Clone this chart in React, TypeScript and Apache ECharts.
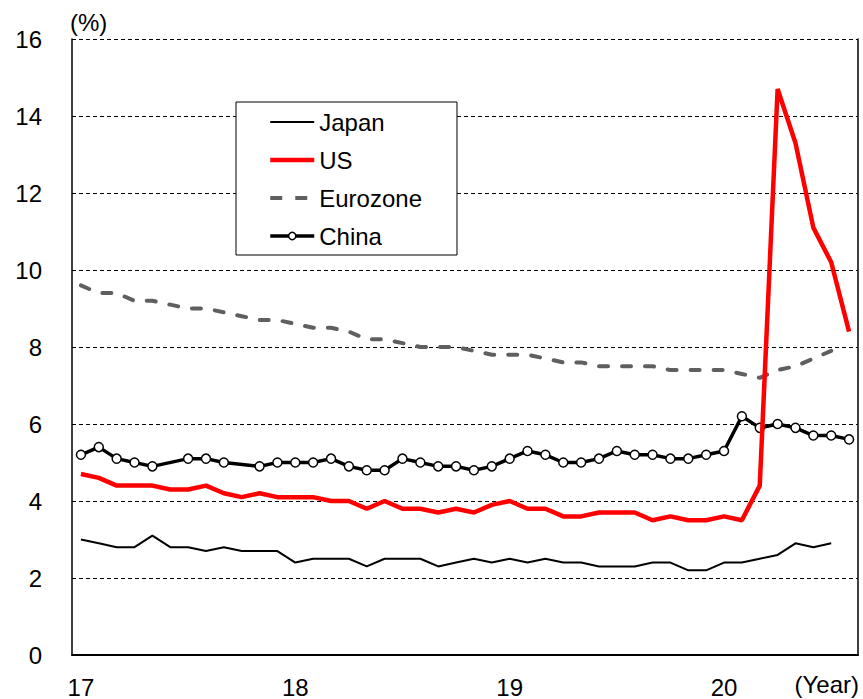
import React, { useEffect, useRef } from "react";
import * as echarts from "echarts";

const months: string[] = [
  "17-01","17-02","17-03","17-04","17-05","17-06","17-07","17-08","17-09","17-10","17-11","17-12",
  "18-01","18-02","18-03","18-04","18-05","18-06","18-07","18-08","18-09","18-10","18-11","18-12",
  "19-01","19-02","19-03","19-04","19-05","19-06","19-07","19-08","19-09","19-10","19-11","19-12",
  "20-01","20-02","20-03","20-04","20-05","20-06","20-07","20-08",
];
const yearLabels: string[] = ["17", "18", "19", "20"];

const japan: (number | null)[] = [
  3.0, 2.9, 2.8, 2.8, 3.1, 2.8, 2.8, 2.7, 2.8, 2.7, 2.7, 2.7,
  2.4, 2.5, 2.5, 2.5, 2.3, 2.5, 2.5, 2.5, 2.3, 2.4, 2.5, 2.4,
  2.5, 2.4, 2.5, 2.4, 2.4, 2.3, 2.3, 2.3, 2.4, 2.4, 2.2, 2.2,
  2.4, 2.4, 2.5, 2.6, 2.9, 2.8, 2.9, null,
];
const us: (number | null)[] = [
  4.7, 4.6, 4.4, 4.4, 4.4, 4.3, 4.3, 4.4, 4.2, 4.1, 4.2, 4.1,
  4.1, 4.1, 4.0, 4.0, 3.8, 4.0, 3.8, 3.8, 3.7, 3.8, 3.7, 3.9,
  4.0, 3.8, 3.8, 3.6, 3.6, 3.7, 3.7, 3.7, 3.5, 3.6, 3.5, 3.5,
  3.6, 3.5, 4.4, 14.7, 13.3, 11.1, 10.2, 8.4,
];
const eurozone: (number | null)[] = [
  9.6, 9.4, 9.4, 9.2, 9.2, 9.1, 9.0, 9.0, 8.9, 8.8, 8.7, 8.7,
  8.6, 8.5, 8.5, 8.4, 8.2, 8.2, 8.1, 8.0, 8.0, 8.0, 7.9, 7.8,
  7.8, 7.8, 7.7, 7.6, 7.6, 7.5, 7.5, 7.5, 7.5, 7.4, 7.4, 7.4,
  7.4, 7.3, 7.2, 7.4, 7.5, 7.7, 7.9, null,
];
const china: (number | null)[] = [
  5.2, 5.4, 5.1, 5.0, 4.9, null, 5.1, 5.1, 5.0, null, 4.9, 5.0,
  5.0, 5.0, 5.1, 4.9, 4.8, 4.8, 5.1, 5.0, 4.9, 4.9, 4.8, 4.9,
  5.1, 5.3, 5.2, 5.0, 5.0, 5.1, 5.3, 5.2, 5.2, 5.1, 5.1, 5.2,
  5.3, 6.2, 5.9, 6.0, 5.9, 5.7, 5.7, 5.6,
];

const FONT = "'Liberation Sans', Arial, sans-serif";

const japanLine = { color: "#000", width: 2 };
const usLine = { color: "#ff0000", width: 4.5 };
const euroLine = { color: "#5f5f5f", width: 4, type: [9, 14], cap: "round" };
const chinaLine = { color: "#000", width: 3.5 };

export default function App() {
  const ref = useRef<HTMLDivElement>(null);
  useEffect(() => {
    if (!ref.current) return;
    const chart = echarts.init(ref.current, null, { renderer: "svg" });
    const option: any = {
      animation: false,
      backgroundColor: "#fff",
      textStyle: { fontFamily: FONT, color: "#000" },
      grid: { left: 72, top: 39, right: 5, bottom: 44, containLabel: false },
      legend: {
        orient: "vertical",
        left: 236,
        top: 102,
        padding: [8, 35, 7, 32],
        itemGap: 14,
        itemWidth: 44,
        itemHeight: 9,
        borderColor: "#000",
        borderWidth: 1,
        backgroundColor: "#fff",
        textStyle: { fontSize: 24, fontFamily: FONT, color: "#000", lineHeight: 24 },
        data: [
          { name: "Japan", itemStyle: { opacity: 0 }, lineStyle: { ...japanLine } },
          { name: "US", itemStyle: { opacity: 0 }, lineStyle: { ...usLine } },
          { name: "Eurozone", itemStyle: { opacity: 0 }, lineStyle: { color: "#5f5f5f", width: 4, type: [12, 13], cap: "butt" } },
          { name: "China", itemStyle: { color: "#fff", borderColor: "#000", borderWidth: 1.5 }, lineStyle: { ...chinaLine } },
        ],
      },
      xAxis: {
        type: "category",
        data: months,
        boundaryGap: true,
        axisLine: { lineStyle: { color: "#000", width: 2 } },
        axisTick: { inside: true, length: 6, interval: 11, lineStyle: { color: "#000", width: 1 } },
        axisLabel: {
          interval: 11,
          margin: 20,
          fontSize: 24,
          fontFamily: FONT,
          color: "#000",
          formatter: (v: string) => {
            const y = v.slice(0, 2);
            return yearLabels.includes(y) ? y : "";
          },
        },
        splitLine: { show: false },
      },
      yAxis: [
        {
          type: "value",
          min: 0,
          max: 16,
          interval: 2,
          axisLine: { show: true, lineStyle: { color: "#000", width: 1.5 } },
          axisTick: { show: true, inside: true, length: 3, lineStyle: { color: "#000" } },
          axisLabel: { margin: 30, fontSize: 24, fontFamily: FONT, color: "#000" },
          splitLine: { show: true, lineStyle: { color: "#000", width: 1, type: [4, 3] } },
        },
        {
          type: "value",
          min: 0,
          max: 16,
          interval: 2,
          position: "right",
          axisLine: { show: true, lineStyle: { color: "#000", width: 1.5 } },
          axisTick: { show: false },
          axisLabel: { show: false },
          splitLine: { show: false },
        },
      ],
      graphic: [
        { type: "text", left: 70, top: 10, style: { text: "(%)", fontSize: 24, fontFamily: FONT, fill: "#000" } },
        { type: "text", right: 4, top: 672, style: { text: "(Year)", fontSize: 24, fontFamily: FONT, fill: "#000" } },
      ],
      series: [
        {
          name: "Japan",
          type: "line",
          data: japan,
          symbol: "none",
          z: 2,
          lineStyle: japanLine,
          itemStyle: { color: "#000" },
        },
        {
          name: "US",
          type: "line",
          data: us,
          symbol: "none",
          z: 5,
          lineStyle: usLine,
          itemStyle: { color: "#ff0000" },
        },
        {
          name: "Eurozone",
          type: "line",
          data: eurozone,
          symbol: "none",
          z: 2,
          lineStyle: euroLine,
          itemStyle: { color: "#5f5f5f" },
        },
        {
          name: "China",
          type: "line",
          data: china,
          connectNulls: true,
          symbol: "circle",
          symbolSize: 9,
          showSymbol: true,
          z: 3,
          lineStyle: chinaLine,
          itemStyle: { color: "#fff", borderColor: "#000", borderWidth: 1.5 },
        },
      ],
    };
    chart.setOption(option);
    return () => chart.dispose();
  }, []);
  return (
    <div
      ref={ref}
      style={{ position: "fixed", left: 0, top: 0, width: 863, height: 699 }}
    />
  );
}
